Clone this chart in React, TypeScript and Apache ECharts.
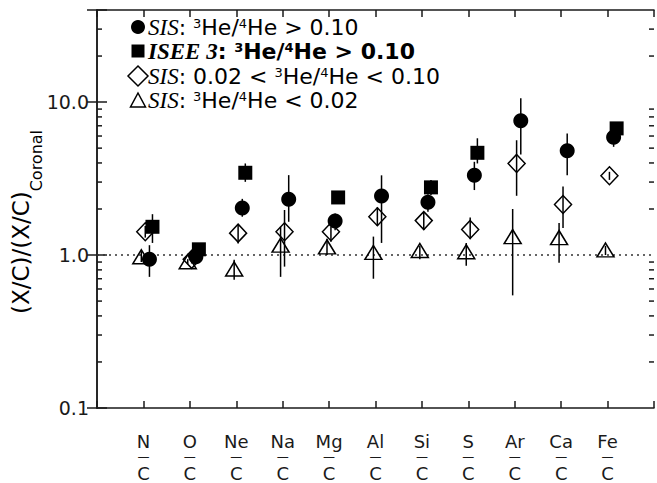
import { useEffect, useRef } from 'react';
import * as echarts from 'echarts';

// ---------- data ----------
const ELEMENTS = ['N', 'O', 'Ne', 'Na', 'Mg', 'Al', 'Si', 'S', 'Ar', 'Ca', 'Fe'];
const DENOM = 'C';

// SIS: 3He/4He > 0.10 (filled circles)
const SIS_HIGH = [0.94, 0.975, 2.03, 2.32, 1.67, 2.43, 2.21, 3.33, 7.55, 4.81, 5.88];
const SIS_HIGH_LO = [0.72, 0.93, 1.78, 1.65, 1.45, 1.2, 1.92, 2.66, 4.54, 3.33, 5.1];
const SIS_HIGH_HI = [1.16, 1.02, 2.33, 3.33, 1.87, 3.32, 2.5, 4.07, 10.6, 6.24, 6.4];

// ISEE 3: 3He/4He > 0.10 (filled squares)
const ISEE_HIGH = [1.53, 1.09, 3.45, null, 2.38, null, 2.77, 4.66, null, null, 6.73];
const ISEE_HIGH_LO = [1.2, 1.05, 3.01, null, 2.3, null, 2.47, 3.97, null, null, 6.4];
const ISEE_HIGH_HI = [1.85, 1.13, 3.97, null, 2.46, null, 3.09, 5.8, null, null, 7.0];

// SIS: 0.02 < 3He/4He < 0.10 (open diamonds)
const SIS_MID = [1.42, 0.937, 1.39, 1.42, 1.42, 1.78, 1.68, 1.47, 3.97, 2.14, 3.3];
const SIS_MID_LO = [1.3, 0.88, 1.19, 0.84, 1.22, 1.55, 1.46, 1.27, 2.44, 1.5, 3.1];
const SIS_MID_HI = [1.55, 1.0, 1.57, 1.97, 1.53, 2.05, 1.9, 1.76, 5.63, 2.81, 3.5];

// SIS: 3He/4He < 0.02 (open triangles)
const SIS_LOW = [0.975, 0.904, 0.81, 1.16, 1.13, 1.04, 1.07, 1.05, 1.32, 1.3, 1.08];
const SIS_LOW_LO = [0.9, 0.87, 0.69, 0.72, 1.0, 0.7, 0.94, 0.85, 0.545, 0.89, 1.0];
const SIS_LOW_HI = [1.06, 0.94, 0.93, 1.53, 1.28, 1.32, 1.15, 1.2, 2.0, 1.62, 1.15];

const Y_TICKS = [0.1, 1, 10];
const Y_TICK_LABELS = ['0.1', '1.0', '10.0'];
const MINOR_TICKS = [0.2, 0.3, 0.4, 0.5, 0.6, 0.7, 0.8, 0.9, 2, 3, 4, 5, 6, 7, 8, 9, 20, 30];
const REF_LEVEL = 1;
const Y_MIN = 0.1;
const Y_MAX = 40;

// ---------- styling ----------
const INK = '#1a1a1a';
const SANS = '"DejaVu Sans", sans-serif';
const SERIF = '"Liberation Serif", "DejaVu Serif", serif';
const X_MAX = ELEMENTS.length + 1;
const OFFSETS = { low: -0.045, mid: 0.04, high: 0.13, isee: 0.195 };

function points(vals: (number | null)[], off: number) {
  const out: number[][] = [];
  vals.forEach((v, i) => {
    if (v != null) out.push([i + 1 + off, v]);
  });
  return out;
}
function bars(lo: (number | null)[], hi: (number | null)[], off: number) {
  const out: number[][] = [];
  lo.forEach((l, i) => {
    const h = hi[i];
    if (l != null && h != null) out.push([i + 1 + off, l, h]);
  });
  return out;
}

function errorSeries(lo: (number | null)[], hi: (number | null)[], off: number) {
  return {
    type: 'custom',
    silent: true,
    encode: { x: 0, y: [1, 2] },
    data: bars(lo, hi, off),
    z: 2,
    renderItem: (_p: any, api: any) => {
      const x = api.value(0);
      const a = api.coord([x, api.value(1)]);
      const b = api.coord([x, api.value(2)]);
      return {
        type: 'line',
        shape: { x1: a[0], y1: a[1], x2: b[0], y2: b[1] },
        style: { stroke: '#000', lineWidth: 1.5 },
      };
    },
  };
}

const openStyle = { color: 'rgba(0,0,0,0)', borderColor: '#000', borderWidth: 1.5, opacity: 1 };
const filledStyle = { color: '#000', opacity: 1 };

function buildOption() {
  const legendRich = {
    it: { fontFamily: SERIF, fontStyle: 'italic', fontSize: 23, color: '#000', lineHeight: 21 },
    bi: { fontFamily: SERIF, fontStyle: 'italic', fontWeight: 'bold', fontSize: 23, color: '#000', lineHeight: 21 },
    n: { fontFamily: SANS, fontSize: 22, color: '#000', lineHeight: 21 },
    b: { fontFamily: SANS, fontSize: 22, fontWeight: 'bold', color: '#000', lineHeight: 21 },
    sup: { fontFamily: SANS, fontSize: 13, color: '#000', verticalAlign: 'top', lineHeight: 11 },
    bsup: { fontFamily: SANS, fontSize: 13, fontWeight: 'bold', color: '#000', verticalAlign: 'top', lineHeight: 11 },
  };
  const legendRows = [
    { y: 27, text: '{it|SIS}{n|: }{sup|3}{n|He/}{sup|4}{n|He > 0.10}' },
    { y: 51, text: '{bi|ISEE 3}{b|: }{bsup|3}{b|He/}{bsup|4}{b|He > 0.10}' },
    { y: 76, text: '{it|SIS}{n|: 0.02 < }{sup|3}{n|He/}{sup|4}{n|He < 0.10}' },
    { y: 100, text: '{it|SIS}{n|: }{sup|3}{n|He/}{sup|4}{n|He < 0.02}' },
  ];
  const lx = 138;
  const graphic: any[] = [
    { type: 'circle', shape: { cx: lx, cy: legendRows[0].y, r: 7 }, style: { fill: '#000' } },
    { type: 'rect', shape: { x: lx - 6.5, y: legendRows[1].y - 6.5, width: 13, height: 13 }, style: { fill: '#000' } },
    {
      type: 'polygon',
      shape: { points: [[lx, legendRows[2].y - 10], [lx + 10, legendRows[2].y], [lx, legendRows[2].y + 10], [lx - 10, legendRows[2].y]] },
      style: { fill: 'none', stroke: '#000', lineWidth: 1.5 },
    },
    {
      type: 'polygon',
      shape: { points: [[lx, legendRows[3].y - 7], [lx + 7.5, legendRows[3].y + 7], [lx - 7.5, legendRows[3].y + 7]] },
      style: { fill: 'none', stroke: '#000', lineWidth: 1.5 },
    },
    ...legendRows.map((r) => ({
      type: 'text',
      x: 148,
      y: r.y,
      style: { text: r.text, rich: legendRich, align: 'left', verticalAlign: 'middle' },
    })),
    {
      type: 'text',
      x: 21,
      y: 222,
      rotation: Math.PI / 2,
      style: {
        text: '{m|(X/C)/(X/C)}{s|Coronal}',
        align: 'center',
        verticalAlign: 'middle',
        rich: {
          m: { fontFamily: SANS, fontSize: 23, color: INK, lineHeight: 46 },
          s: { fontFamily: SANS, fontSize: 16, color: INK, verticalAlign: 'bottom', lineHeight: 18 },
        },
      },
    },
  ];

  const axisLine = { show: true, lineStyle: { color: INK, width: 1.5 } };
  const tickStyle = { color: INK, width: 1.5 };

  const xLabelFormatter = (v: number) => {
    const i = Math.round(v) - 1;
    if (i < 0 || i >= ELEMENTS.length) return '';
    return `{t|${ELEMENTS[i]}}\n{bar|—}\n{c|${DENOM}}`;
  };
  const yLabelFormatter = (v: number) => {
    const idx = Y_TICKS.findIndex((t) => Math.abs(t - v) / t < 1e-6);
    return idx >= 0 ? Y_TICK_LABELS[idx] : '';
  };

  return {
    animation: false,
    backgroundColor: '#fff',
    grid: { left: 97, right: 3, top: 10, bottom: 75, containLabel: false },
    xAxis: [
      {
        type: 'value',
        position: 'bottom',
        min: 0,
        max: X_MAX,
        interval: 1,
        axisLine,
        axisTick: { show: true, inside: true, length: 7, lineStyle: tickStyle },
        splitLine: { show: false },
        axisLabel: {
          margin: 24,
          formatter: xLabelFormatter,
          color: INK,
          rich: {
            t: { fontFamily: SANS, fontSize: 18, lineHeight: 18, color: INK },
            bar: { fontFamily: SANS, fontSize: 12, lineHeight: 14, color: INK },
            c: { fontFamily: SANS, fontSize: 18, lineHeight: 18, color: INK },
          },
        },
      },
      {
        type: 'value',
        position: 'top',
        min: 0,
        max: X_MAX,
        interval: 1,
        axisLine,
        axisTick: { show: true, inside: true, length: 7, lineStyle: tickStyle },
        splitLine: { show: false },
        axisLabel: { show: false },
      },
    ],
    yAxis: [
      {
        type: 'log',
        logBase: 10,
        position: 'left',
        min: Y_MIN,
        max: Y_MAX,
        axisLine,
        axisTick: { show: true, inside: true, length: 10, lineStyle: tickStyle },
        splitLine: { show: false },
        minorTick: { show: false },
        axisLabel: { formatter: yLabelFormatter, fontFamily: SANS, fontSize: 19, color: INK, margin: 8 },
      },
      {
        type: 'log',
        logBase: 10,
        position: 'right',
        min: Y_MIN,
        max: Y_MAX,
        axisLine,
        axisTick: { show: true, inside: true, length: 10, lineStyle: tickStyle },
        splitLine: { show: false },
        minorTick: { show: false },
        axisLabel: { show: false },
      },
    ],
    graphic,
    series: [
      {
        type: 'custom',
        silent: true,
        encode: { x: 0, y: 1 },
        data: MINOR_TICKS.map((v) => [0, v]),
        renderItem: (_p: any, api: any) => {
          const v = api.value(1);
          const l = api.coord([0, v]);
          const r = api.coord([X_MAX, v]);
          return {
            type: 'group',
            children: [
              { type: 'line', shape: { x1: l[0], y1: l[1], x2: l[0] + 5, y2: l[1] }, style: { stroke: INK, lineWidth: 1.5 } },
              { type: 'line', shape: { x1: r[0] - 5, y1: r[1], x2: r[0], y2: r[1] }, style: { stroke: INK, lineWidth: 1.5 } },
            ],
          };
        },
      },
      {
        type: 'line',
        silent: true,
        data: [[0, REF_LEVEL], [X_MAX, REF_LEVEL]],
        symbol: 'none',
        lineStyle: { color: '#333', width: 1.5, type: [2, 4] },
        z: 1,
      },
      errorSeries(SIS_LOW_LO, SIS_LOW_HI, OFFSETS.low),
      errorSeries(SIS_MID_LO, SIS_MID_HI, OFFSETS.mid),
      errorSeries(SIS_HIGH_LO, SIS_HIGH_HI, OFFSETS.high),
      errorSeries(ISEE_HIGH_LO, ISEE_HIGH_HI, OFFSETS.isee),
      {
        name: 'SIS low',
        type: 'scatter',
        symbol: 'triangle',
        symbolSize: [17, 14],
        itemStyle: openStyle,
        data: points(SIS_LOW, OFFSETS.low),
        z: 3,
      },
      {
        name: 'SIS mid',
        type: 'scatter',
        symbol: 'diamond',
        symbolSize: [17, 18],
        itemStyle: openStyle,
        data: points(SIS_MID, OFFSETS.mid),
        z: 3,
      },
      {
        name: 'SIS high',
        type: 'scatter',
        symbol: 'circle',
        symbolSize: 15,
        itemStyle: filledStyle,
        data: points(SIS_HIGH, OFFSETS.high),
        z: 4,
      },
      {
        name: 'ISEE 3 high',
        type: 'scatter',
        symbol: 'rect',
        symbolSize: 14,
        itemStyle: filledStyle,
        data: points(ISEE_HIGH, OFFSETS.isee),
        z: 4,
      },
    ],
  };
}

export default function App() {
  const ref = useRef<HTMLDivElement>(null);
  useEffect(() => {
    if (!ref.current) return;
    const chart = echarts.init(ref.current, null, { renderer: 'svg' });
    chart.setOption(buildOption() as any);
    return () => chart.dispose();
  }, []);
  return (
    <div
      ref={ref}
      style={{ position: 'fixed', left: 0, top: 0, width: 657, height: 483, background: '#fff' }}
    />
  );
}
